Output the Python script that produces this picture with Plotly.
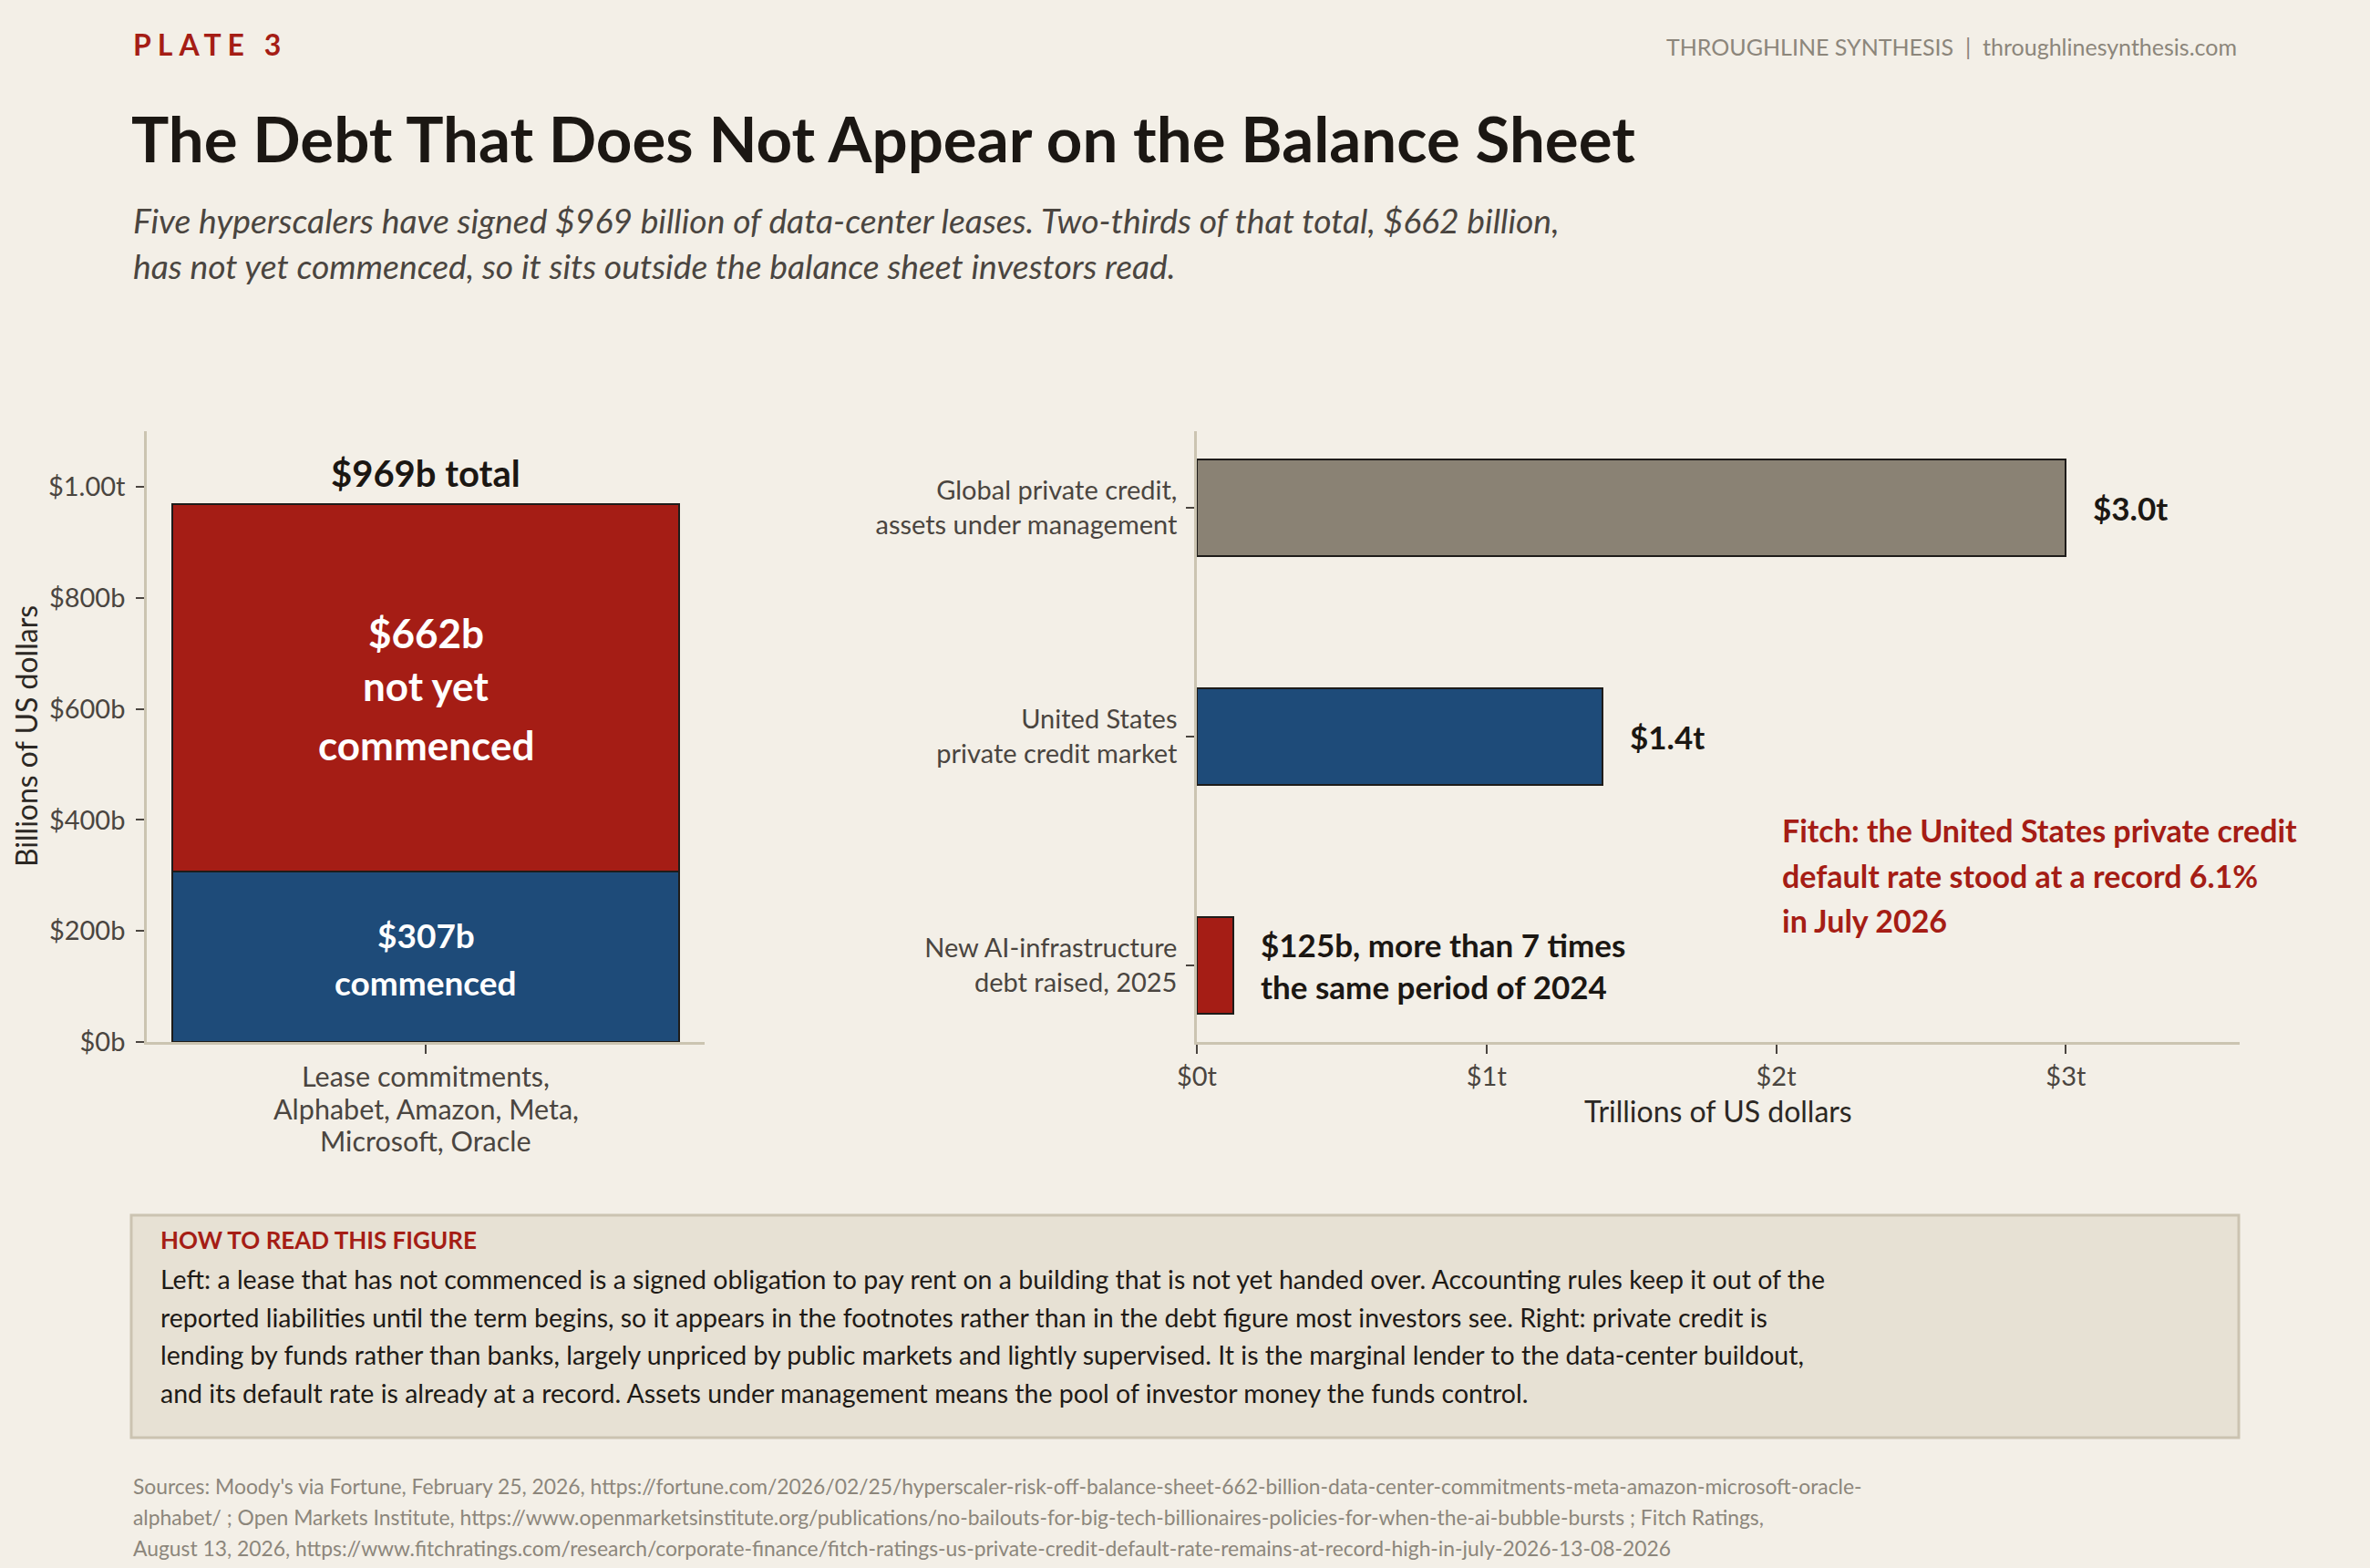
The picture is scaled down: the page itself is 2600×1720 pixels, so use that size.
import plotly.graph_objects as go

# ---------------- data ----------------
lease_category_lines = ["Lease commitments,", "Alphabet, Amazon, Meta,", "Microsoft, Oracle"]
commenced = [307]
not_commenced = [662]
lease_total = 969
left_tickvals = [0, 200, 400, 600, 800, 1000]
left_ticktext = ["$0b", "$200b", "$400b", "$600b", "$800b", "$1.00t"]

credit_categories = [
    "Global private credit,<br>assets under management",
    "United States<br>private credit market",
    "New AI-infrastructure<br>debt raised, 2025",
]
credit_values = [3.0, 1.4, 0.125]
credit_labels = ["$3.0t", "$1.4t", "$125b, more than 7 times<br>the same period of 2024"]
right_tickvals = [0, 1, 2, 3]
right_ticktext = ["$0t", "$1t", "$2t", "$3t"]

# ---------------- style ----------------
W, H = 2600, 1720
BG = "#f3efe7"
INK = "#1b1713"
GREY = "#4a4540"
LIGHT = "#8c867b"
RED = "#a51d15"
NAVY = "#1e4b79"
TAUPE = "#8a8274"
AXIS = "#cbc4b1"
OUTLINE = "#1e1c1a"
FONT = "Lato"


def px(x):
    return x / W


def py(y):
    return 1 - y / H


fig = go.Figure()

fig.add_trace(go.Bar(x=[0], y=commenced, width=0.908, marker=dict(color=NAVY, line=dict(color=OUTLINE, width=2.5)),
                     xaxis="x", yaxis="y", showlegend=False, hoverinfo="skip"))
fig.add_trace(go.Bar(x=[0], y=not_commenced, width=0.908, marker=dict(color=RED, line=dict(color=OUTLINE, width=2.5)),
                     xaxis="x", yaxis="y", showlegend=False, hoverinfo="skip"))

cat_pos = list(range(len(credit_categories)))
fig.add_trace(go.Bar(x=credit_values, y=cat_pos, orientation="h", width=0.42,
                     marker=dict(color=[TAUPE, NAVY, RED], line=dict(color=OUTLINE, width=2.5)),
                     xaxis="x2", yaxis="y2", showlegend=False, hoverinfo="skip"))

ydom = [py(1143), py(473)]
axis_common = dict(showgrid=False, zeroline=False, showline=True, linecolor=AXIS, linewidth=2.5,
                   ticks="outside", tickcolor=GREY, tickwidth=2, ticklen=10, automargin=False,
                   tickfont=dict(family=FONT, size=29, color=GREY))

fig.update_layout(
    width=W, height=H, margin=dict(l=0, r=0, t=0, b=0, pad=0, autoexpand=False),
    paper_bgcolor=BG, plot_bgcolor=BG, barmode="stack", bargap=0,
    font=dict(family=FONT, color=INK),
    xaxis=dict(domain=[px(161), px(773)], range=[-0.5, 0.5], tickvals=[0], showticklabels=False,
               **axis_common),
    yaxis=dict(domain=ydom, range=[0, 1100], tickvals=left_tickvals, ticktext=left_ticktext,
               ticklabelstandoff=6, **axis_common),
    xaxis2=dict(domain=[px(1313), px(2457)], range=[0, 3.6], tickvals=right_tickvals, ticktext=right_ticktext,
                anchor="y2", **axis_common),
    yaxis2=dict(domain=ydom, range=[2.335, -0.335], tickvals=cat_pos, ticktext=credit_categories,
                anchor="x2", ticklabelstandoff=4, **axis_common),
)
fig.update_yaxes(ticklen=9)

ann = []

def text(x, y, s, size, color=INK, weight=400, xanchor="left", italic=False, xref="paper", yref="paper", **kw):
    d = dict(x=x, y=y, xref=xref, yref=yref, text=s, showarrow=False, xanchor=xanchor, yanchor="middle",
             font=dict(family=FONT, size=size, color=color, weight=weight, style="italic" if italic else "normal"))
    d.update(kw)
    ann.append(d)

text(px(144), py(48), '<span style="letter-spacing:7px">PLATE 3</span>', 32, RED, 700)
text(px(2456), py(51), "THROUGHLINE SYNTHESIS  |  throughlinesynthesis.com", 25, LIGHT, 400, xanchor="right")
text(px(142), py(152), "The Debt That Does Not Appear on the Balance Sheet", 69, INK, 700)
text(px(144), py(242), "Five hyperscalers have signed $969 billion of data-center leases. Two-thirds of that total, $662 billion,",
     37.3, GREY, 400, italic=True)
text(px(144), py(291), "has not yet commenced, so it sits outside the balance sheet investors read.", 37.3, GREY, 400, italic=True)

# left chart labels
text(0, lease_total, "$969b total", 40, INK, 700, xanchor="center", xref="x", yref="y", yshift=34)
c_mid = commenced[0] / 2
text(0, c_mid, "$307b", 37, "#ffffff", 700, xanchor="center", xref="x", yref="y", yshift=24)
text(0, c_mid, "commenced", 37, "#ffffff", 700, xanchor="center", xref="x", yref="y", yshift=-28)
n_mid = commenced[0] + not_commenced[0] / 2
text(0, n_mid, "$662b", 44, "#ffffff", 700, xanchor="center", xref="x", yref="y", yshift=60)
text(0, n_mid, "not yet", 44, "#ffffff", 700, xanchor="center", xref="x", yref="y", yshift=2)
text(0, n_mid, "commenced", 44, "#ffffff", 700, xanchor="center", xref="x", yref="y", yshift=-63)
for i, line in enumerate(lease_category_lines):
    ann.append(dict(x=0, y=py(1180 + i * 35.5), xref="x", yref="paper", text=line, showarrow=False,
                    xanchor="center", yanchor="middle", font=dict(family=FONT, size=30.5, color=GREY)))
ann.append(dict(x=px(28), y=py(808), xref="paper", yref="paper", text="Billions of US dollars", textangle=-90,
                showarrow=False, xanchor="center", yanchor="middle",
                font=dict(family=FONT, size=32, color="#2c2824")))

# right chart labels
for v, p, lab in zip(credit_values, cat_pos, credit_labels):
    text(v, p, lab, 35, INK, 700, xref="x2", yref="y2", xshift=28, align="left")
text(px(1885), py(1218), "Trillions of US dollars", 32, "#2c2824", 400, xanchor="center")
text(px(1953), py(910), "Fitch: the United States private credit", 34, RED, 700)
text(px(1953), py(961), "default rate stood at a record 6.1%", 34, RED, 700)
text(px(1953), py(1009), "in July 2026", 34, RED, 700)

# how-to-read box
fig.add_shape(type="rect", xref="paper", yref="paper", x0=px(144), x1=px(2456), y0=py(1577), y1=py(1333),
              fillcolor="#e7e1d4", line=dict(color="#cbc3b1", width=3), layer="below")
text(px(174), py(1360), "HOW TO READ THIS FIGURE", 26, RED, 700)
body = [
    "Left: a lease that has not commenced is a signed obligation to pay rent on a building that is not yet handed over. Accounting rules keep it out of the",
    "reported liabilities until the term begins, so it appears in the footnotes rather than in the debt figure most investors see. Right: private credit is",
    "lending by funds rather than banks, largely unpriced by public markets and lightly supervised. It is the marginal lender to the data-center buildout,",
    "and its default rate is already at a record. Assets under management means the pool of investor money the funds control.",
]
for i, line in enumerate(body):
    text(px(174), py(1403 + i * 41.5), line, 28.5, "#1e1a16", 400)

sources = [
    "Sources: Moody's via Fortune, February 25, 2026, https://fortune.com/2026/02/25/hyperscaler-risk-off-balance-sheet-662-billion-data-center-commitments-meta-amazon-microsoft-oracle-",
    "alphabet/ ; Open Markets Institute, https://www.openmarketsinstitute.org/publications/no-bailouts-for-big-tech-billionaires-policies-for-when-the-ai-bubble-bursts ; Fitch Ratings,",
    "August 13, 2026, https://www.fitchratings.com/research/corporate-finance/fitch-ratings-us-private-credit-default-rate-remains-at-record-high-in-july-2026-13-08-2026",
]
for i, line in enumerate(sources):
    text(px(144), py(1630 + i * 34), line, 22.85, LIGHT, 400)

fig.update_layout(annotations=ann)
fig.write_html("out.html", config={"displayModeBar": False},
               post_script="document.body.style.margin='0';document.documentElement.style.margin='0';"
                           "document.body.style.overflow='hidden';")
